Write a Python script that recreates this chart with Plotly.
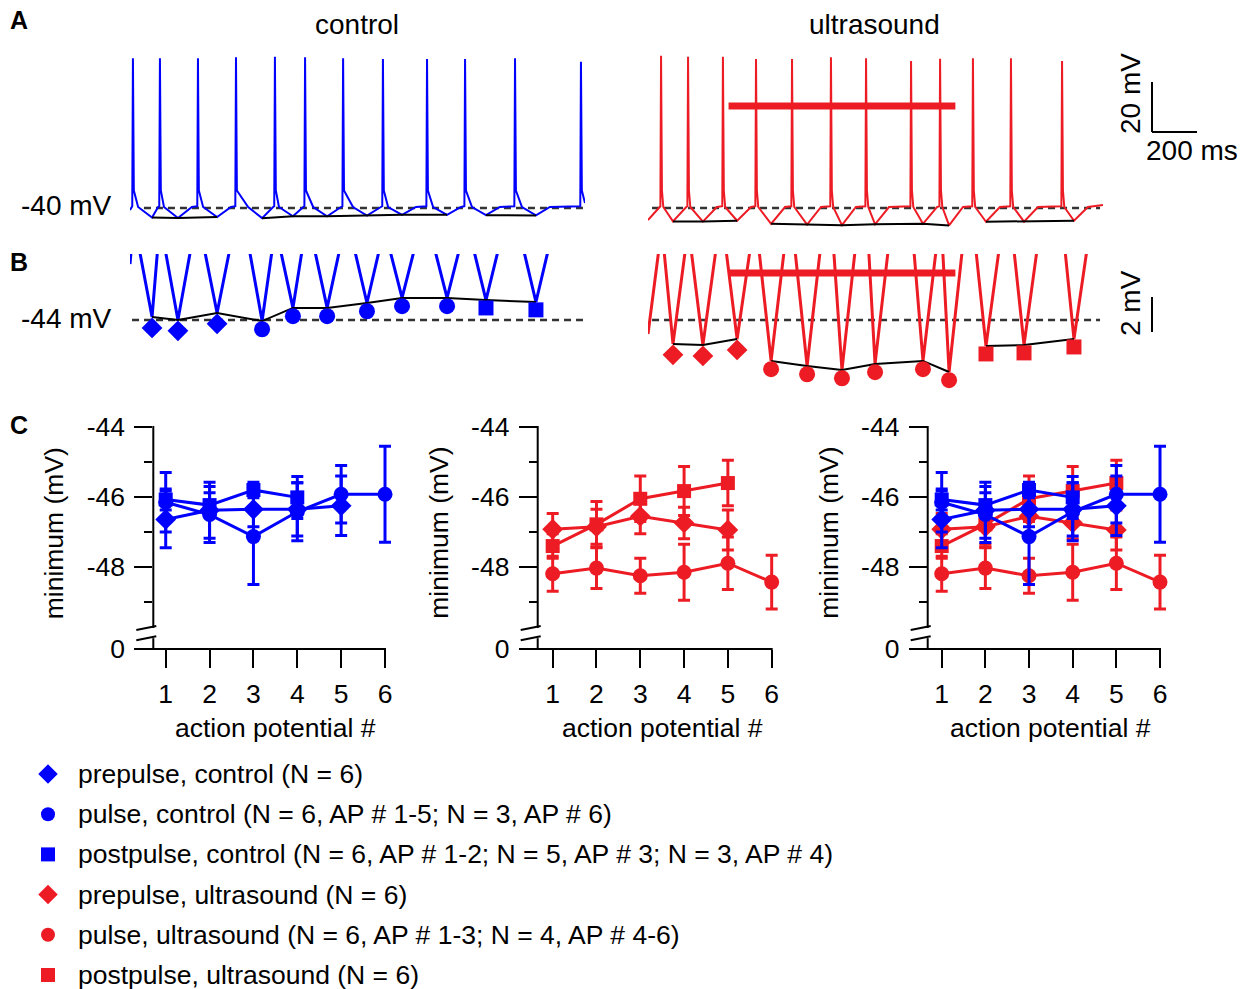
import plotly.graph_objects as go

W, H = 1248, 989
FONT = "Liberation Sans, Arial, Helvetica, sans-serif"
BLUE = "#0000ff"
RED = "#ed1c24"
DASH_COL = "#333333"

# ---------------- data: example traces (panels A and B) ----------------
# times in ms from the start of the sweep, voltages in mV
ctrl_spike_t = [13, 133, 302, 471, 644, 778, 947, 1124, 1320, 1489, 1711, 2004]
ctrl_spike_peak = [19.9, 19.9, 19.9, 20.3, 20.5, 20.3, 19.9, 19.6, 19.6, 19.6, 19.9, 18.5]
ctrl_trough_t = [98, 213, 387, 587, 724, 876, 1053, 1209, 1409, 1582, 1804]
ctrl_trough_v = [-43.83, -44.00, -43.60, -44.06, -43.31, -43.31, -43.03, -42.74, -42.74, -42.86, -42.97]
ctrl_trough_phase = ["pre"] * 3 + ["pulse"] * 6 + ["post"] * 2
ctrl_start = (0, -40.8)
ctrl_end = (2022, -38.0)

us_spike_t = [58, 178, 333, 480, 640, 813, 969, 1169, 1298, 1444, 1613, 1840]
us_spike_peak = [20.9, 20.5, 20.5, 19.6, 19.6, 20.3, 19.9, 18.8, 19.7, 19.9, 19.9, 18.8]
us_trough_t = [111, 244, 396, 547, 707, 862, 1009, 1222, 1338, 1502, 1671, 1893]
us_trough_v = [-45.37, -45.43, -45.09, -46.34, -46.63, -46.86, -46.51, -46.34, -46.97, -45.49, -45.43, -45.09]
us_trough_phase = ["pre"] * 3 + ["pulse"] * 6 + ["post"] * 3
us_start = (0, -44.8)
us_end = (2022, -38.8)
us_pulse_on_off = (358, 1366)  # ms

# ---------------- data: panel C (mean +/- error) ----------------
ap_num = [1, 2, 3, 4, 5, 6]
ctrl_pre_mean = [-46.64, -46.38, -46.35, -46.35, -46.25]
ctrl_pre_err = [0.81, 0.80, 0.50, 0.76, 0.85]
ctrl_pulse_mean = [-46.15, -46.50, -47.13, -46.42, -45.92, -45.92]
ctrl_pulse_err = [0.85, 0.80, 1.37, 0.83, 0.82, 1.37]
ctrl_post_mean = [-46.07, -46.23, -45.80, -46.01]
ctrl_post_err = [0.30, 0.35, 0.22, 0.60]
us_pre_mean = [-46.92, -46.85, -46.55, -46.74, -46.94]
us_pre_err = [0.45, 0.50, 0.50, 0.45, 0.57]
us_pulse_mean = [-48.19, -48.03, -48.25, -48.15, -47.89, -48.43]
us_pulse_err = [0.50, 0.58, 0.50, 0.80, 0.75, 0.77]
us_post_mean = [-47.40, -46.78, -46.05, -45.83, -45.60]
us_post_err = [0.35, 0.65, 0.65, 0.70, 0.65]

y_tick_vals = [-44, -46, -48]
y_tick_text = ["-44", "-46", "-48"]
y_minor_vals = [-45, -47, -49]
x_tick_text = ["1", "2", "3", "4", "5", "6"]

legend_labels = [
    "prepulse, control (N = 6)",
    "pulse, control (N = 6, AP # 1-5; N = 3, AP # 6)",
    "postpulse, control (N = 6, AP # 1-2; N = 5, AP # 3; N = 3, AP # 4)",
    "prepulse, ultrasound (N = 6)",
    "pulse, ultrasound (N = 6, AP # 1-3; N = 4, AP # 4-6)",
    "postpulse, ultrasound (N = 6)",
]

# ---------------- style / layout constants ----------------
SYMBOL = {"pre": "diamond", "pulse": "circle", "post": "square"}
B_MARK_SIZE = {"pre": 16, "pulse": 16, "post": 15}
B_MARK_OFFSET = {"pre": 0.62, "pulse": 0.47, "post": 0.45}  # mV below trough
PRE_DT, V_PRE = 3, -39.3          # spike onset
REP_DT, V_REP = 4, -33.0          # fast repolarisation
ARM_DT, V_ARM = 62, -39.6         # shape of the after-hyperpolarisation trough
ZERO_POS = -50.34  # position of the "0" label below the axis break
C_FONT = 26.5

A_MV_PX = 2.5          # px per mV in A
B_MV_PX = 17.5         # px per mV in B
MS_PX = 455 / 2022     # px per ms


def px2x(p):
    return p / W


def px2y(p):
    return 1 - p / H


def waveform(start, spike_t, spike_peak, trough_t, trough_v, end):
    pts = [start, end]
    for t, p in zip(spike_t, spike_peak):
        pts += [(t - PRE_DT, V_PRE), (t, p)]
        if t + REP_DT < end[0]:
            pts.append((t + REP_DT, V_REP))
    for t, v in zip(trough_t, trough_v):
        prev_s = max([s for s in spike_t if s < t], default=start[0])
        next_s = min([s for s in spike_t if s > t], default=end[0] + 8)
        left = max(t - ARM_DT, prev_s + 10)
        right = min(t + ARM_DT, next_s - 8)
        pts += [(left, V_ARM), (t, v), (right, V_ARM)]
    pts.sort()
    return [p[0] for p in pts], [p[1] for p in pts]


fig = go.Figure()
shapes = []
annotations = []

cells = [
    dict(col=BLUE, spike_t=ctrl_spike_t, peak=ctrl_spike_peak, tr_t=ctrl_trough_t, tr_v=ctrl_trough_v,
         phase=ctrl_trough_phase, start=ctrl_start, end=ctrl_end, xa="x", ya="y", xb="x3", yb="y3",
         dash=(62, 2013), dashB=(9, 2013), b_continuous=True),
    dict(col=RED, spike_t=us_spike_t, peak=us_spike_peak, tr_t=us_trough_t, tr_v=us_trough_v,
         phase=us_trough_phase, start=us_start, end=us_end, xa="x2", ya="y2", xb="x4", yb="y4",
         dash=(18, 2009), dashB=(18, 2009), b_continuous=False),
]

for c in cells:
    ts, vs = waveform(c["start"], c["spike_t"], c["peak"], c["tr_t"], c["tr_v"], c["end"])
    # panel A
    fig.add_trace(go.Scatter(x=list(c["dash"]), y=[-40, -40], mode="lines", xaxis=c["xa"], yaxis=c["ya"],
                             line=dict(color=DASH_COL, width=2.5, dash="7px,5px"), hoverinfo="skip"))
    fig.add_trace(go.Scatter(x=ts, y=vs, mode="lines", xaxis=c["xa"], yaxis=c["ya"],
                             line=dict(color=c["col"], width=2), hoverinfo="skip"))
    for ph in ["pre", "pulse", "post"]:
        idx = [i for i, p in enumerate(c["phase"]) if p == ph]
        fig.add_trace(go.Scatter(x=[c["tr_t"][i] for i in idx], y=[c["tr_v"][i] for i in idx], mode="lines",
                                 xaxis=c["xa"], yaxis=c["ya"], line=dict(color="black", width=2),
                                 hoverinfo="skip"))
    # panel B
    fig.add_trace(go.Scatter(x=list(c["dashB"]), y=[-44, -44], mode="lines", xaxis=c["xb"], yaxis=c["yb"],
                             line=dict(color=DASH_COL, width=2.5, dash="7px,5px"), hoverinfo="skip"))
    fig.add_trace(go.Scatter(x=ts, y=vs, mode="lines", xaxis=c["xb"], yaxis=c["yb"],
                             line=dict(color=c["col"], width=3), hoverinfo="skip"))
    if c["b_continuous"]:
        groups = [list(range(len(c["tr_t"])))]
    else:
        groups = [[i for i, p in enumerate(c["phase"]) if p == ph] for ph in ["pre", "pulse", "post"]]
    for idx in groups:
        fig.add_trace(go.Scatter(x=[c["tr_t"][i] for i in idx], y=[c["tr_v"][i] for i in idx], mode="lines",
                                 xaxis=c["xb"], yaxis=c["yb"], line=dict(color="black", width=2),
                                 hoverinfo="skip"))
    for ph in ["pre", "pulse", "post"]:
        idx = [i for i, p in enumerate(c["phase"]) if p == ph]
        fig.add_trace(go.Scatter(x=[c["tr_t"][i] for i in idx],
                                 y=[c["tr_v"][i] - B_MARK_OFFSET[ph] for i in idx], mode="markers",
                                 xaxis=c["xb"], yaxis=c["yb"], cliponaxis=False,
                                 marker=dict(symbol=SYMBOL[ph], size=B_MARK_SIZE[ph], color=c["col"]),
                                 hoverinfo="skip"))

# ultrasound pulse bars
shapes.append(dict(type="line", xref="x2", yref="y2", x0=us_pulse_on_off[0], x1=us_pulse_on_off[1],
                   y0=0.8, y1=0.8, line=dict(color=RED, width=7)))
shapes.append(dict(type="line", xref="x4", yref="y4", x0=us_pulse_on_off[0], x1=us_pulse_on_off[1],
                   y0=-41.31, y1=-41.31, line=dict(color=RED, width=7)))

# scale bars
sb_x, sb_y = 1152, 132
shapes.append(dict(type="line", xref="paper", yref="paper", x0=px2x(sb_x), x1=px2x(sb_x),
                   y0=px2y(sb_y), y1=px2y(sb_y - 20 * A_MV_PX), line=dict(color="black", width=2)))
shapes.append(dict(type="line", xref="paper", yref="paper", x0=px2x(sb_x), x1=px2x(sb_x + 200 * MS_PX),
                   y0=px2y(sb_y), y1=px2y(sb_y), line=dict(color="black", width=2)))
sb2_y = 332
shapes.append(dict(type="line", xref="paper", yref="paper", x0=px2x(sb_x), x1=px2x(sb_x),
                   y0=px2y(sb2_y), y1=px2y(sb2_y - 2 * B_MV_PX), line=dict(color="black", width=2)))

# ---------------- panel C ----------------
C_AXIS_PX = [153.3, 537.7, 927.7]
C_UNIT_PX = [43.86, 43.8, 43.66]
C_X0 = [0.717, 0.658, 0.679]
C_XMAX = 6.35
C_TOP, C_BOT = 427, 649
C_MV_PX = (C_BOT - C_TOP) / (-44 - ZERO_POS)

ctrl_series = [
    ("pre", BLUE, ctrl_pre_mean, ctrl_pre_err),
    ("pulse", BLUE, ctrl_pulse_mean, ctrl_pulse_err),
    ("post", BLUE, ctrl_post_mean, ctrl_post_err),
]
us_series = [
    ("pre", RED, us_pre_mean, us_pre_err),
    ("pulse", RED, us_pulse_mean, us_pulse_err),
    ("post", RED, us_post_mean, us_post_err),
]
panel_series = [ctrl_series, us_series, us_series + ctrl_series]
C_MARK_SIZE = {"pre": 16, "pulse": 15, "post": 14}

for k in range(3):
    n = 5 + k
    xa, ya = "x%d" % n, "y%d" % n
    for ph, col, mean, err in panel_series[k]:
        fig.add_trace(go.Scatter(x=ap_num[:len(mean)], y=mean, mode="lines+markers", xaxis=xa, yaxis=ya,
                                 cliponaxis=False, line=dict(color=col, width=3),
                                 marker=dict(symbol=SYMBOL[ph], size=C_MARK_SIZE[ph], color=col),
                                 error_y=dict(type="data", array=err, visible=True, thickness=3, width=6,
                                              color=col),
                                 hoverinfo="skip"))
    ax_px = C_AXIS_PX[k]
    unit = C_UNIT_PX[k]
    x0 = C_X0[k]
    right_px = ax_px + (C_XMAX - x0) * unit
    fig.update_layout(**{
        "xaxis%d" % n: dict(domain=[px2x(ax_px), px2x(right_px)], range=[x0, C_XMAX], anchor=ya,
                            tickvals=ap_num, ticktext=x_tick_text, ticks="outside", ticklen=18, tickwidth=2,
                            tickcolor="black", showline=False, showgrid=False, zeroline=False,
                            tickfont=dict(size=C_FONT, color="black", family=FONT), ticklabelstandoff=3,
                            fixedrange=True, automargin=False),
        "yaxis%d" % n: dict(domain=[px2y(C_BOT), px2y(C_TOP)], range=[ZERO_POS - 0.001, -44 + 0.001],
                            anchor=xa, tickvals=y_tick_vals + [ZERO_POS], ticktext=y_tick_text + ["0"],
                            ticks="outside", ticklen=18, tickwidth=2, tickcolor="black",
                            minor=dict(tickvals=y_minor_vals, ticks="outside", ticklen=8, tickwidth=2,
                                       tickcolor="black", showgrid=False),
                            showline=False, showgrid=False, zeroline=False,
                            tickfont=dict(size=C_FONT, color="black", family=FONT), ticklabelstandoff=4,
                            fixedrange=True, automargin=False),
    })
    x6_px = ax_px + (6 - x0) * unit
    brk_top = C_TOP + (-44 - (-49.74)) * C_MV_PX
    brk_bot = C_TOP + (-44 - (-50.03)) * C_MV_PX
    line = dict(color="black", width=2)
    shapes += [
        dict(type="line", xref="paper", yref="paper", x0=px2x(ax_px), x1=px2x(ax_px),
             y0=px2y(C_TOP - 1), y1=px2y(brk_top), line=line),
        dict(type="line", xref="paper", yref="paper", x0=px2x(ax_px), x1=px2x(ax_px),
             y0=px2y(brk_bot), y1=px2y(C_BOT + 1), line=line),
        dict(type="line", xref="paper", yref="paper", x0=px2x(ax_px - 18), x1=px2x(x6_px + 1),
             y0=px2y(C_BOT), y1=px2y(C_BOT), line=line),
        dict(type="line", xref="paper", yref="paper", x0=px2x(ax_px - 17), x1=px2x(ax_px + 3),
             y0=px2y(brk_top + 2), y1=px2y(brk_top - 2), line=line),
        dict(type="line", xref="paper", yref="paper", x0=px2x(ax_px - 17), x1=px2x(ax_px + 3),
             y0=px2y(brk_bot + 2), y1=px2y(brk_bot - 2), line=line),
    ]
    annotations.append(dict(text="minimum (mV)", x=px2x(ax_px - 99), y=px2y(533), textangle=-90,
                            font=dict(size=C_FONT)))
    annotations.append(dict(text="action potential #", x=px2x(ax_px + (3.5 - x0) * unit), y=px2y(728),
                            font=dict(size=C_FONT)))

# ---------------- legend ----------------
leg_colors = [BLUE] * 3 + [RED] * 3
leg_phase = ["pre", "pulse", "post"] * 2
leg_size = {"pre": 15, "pulse": 14, "post": 14}
for i, lab in enumerate(legend_labels):
    yy = 774 + 40.2 * i
    fig.add_trace(go.Scatter(x=[48], y=[yy], mode="markers", xaxis="x8", yaxis="y8", cliponaxis=False,
                             marker=dict(symbol=SYMBOL[leg_phase[i]], size=leg_size[leg_phase[i]],
                                         color=leg_colors[i]), hoverinfo="skip"))
    annotations.append(dict(text=lab, x=px2x(76), y=px2y(yy), xanchor="left", font=dict(size=26.5)))

# ---------------- text labels ----------------
annotations += [
    dict(text="<b>A</b>", x=px2x(19), y=px2y(20), font=dict(size=25)),
    dict(text="<b>B</b>", x=px2x(19), y=px2y(262), font=dict(size=25)),
    dict(text="<b>C</b>", x=px2x(19), y=px2y(425), font=dict(size=25)),
    dict(text="control", x=px2x(357), y=px2y(24), font=dict(size=28)),
    dict(text="ultrasound", x=px2x(875), y=px2y(24), font=dict(size=28)),
    dict(text="-40 mV", x=px2x(114), y=px2y(206), xanchor="right", font=dict(size=28)),
    dict(text="-44 mV", x=px2x(114), y=px2y(318), xanchor="right", font=dict(size=28)),
    dict(text="20 mV", x=px2x(1131), y=px2y(94), textangle=-90, font=dict(size=28)),
    dict(text="200 ms", x=px2x(1192), y=px2y(150), font=dict(size=28)),
    dict(text="2 mV", x=px2x(1131), y=px2y(303), textangle=-90, font=dict(size=28)),
]
for a in annotations:
    a["xref"] = "paper"
    a["yref"] = "paper"
    a["showarrow"] = False
    a.setdefault("xanchor", "center")
    a["yanchor"] = "middle"
    a["font"] = dict(family=FONT, color="black", size=a["font"]["size"])

hidden = dict(visible=False, fixedrange=True, automargin=False)
A_TOP, A_BOT = 45, 240
B_TOP, B_BOT = 254, 392
fig.update_layout(
    width=W, height=H, autosize=False,
    margin=dict(l=0, r=0, t=0, b=0, pad=0, autoexpand=False),
    paper_bgcolor="white", plot_bgcolor="rgba(0,0,0,0)", showlegend=False,
    font=dict(family=FONT, color="black"),
    xaxis=dict(domain=[px2x(130), px2x(585)], range=[0, 2022], anchor="y", **hidden),
    yaxis=dict(domain=[px2y(A_BOT), px2y(A_TOP)],
               range=[-40 - (A_BOT - 208) / A_MV_PX, -40 + (208 - A_TOP) / A_MV_PX], anchor="x", **hidden),
    xaxis2=dict(domain=[px2x(648), px2x(1103)], range=[0, 2022], anchor="y2", **hidden),
    yaxis2=dict(domain=[px2y(A_BOT), px2y(A_TOP)],
                range=[-40 - (A_BOT - 208) / A_MV_PX, -40 + (208 - A_TOP) / A_MV_PX], anchor="x2", **hidden),
    xaxis3=dict(domain=[px2x(130), px2x(585)], range=[0, 2022], anchor="y3", **hidden),
    yaxis3=dict(domain=[px2y(B_BOT), px2y(B_TOP)],
                range=[-44 - (B_BOT - 320) / B_MV_PX, -44 + (320 - B_TOP) / B_MV_PX], anchor="x3", **hidden),
    xaxis4=dict(domain=[px2x(648), px2x(1103)], range=[0, 2022], anchor="y4", **hidden),
    yaxis4=dict(domain=[px2y(B_BOT), px2y(B_TOP)],
                range=[-44 - (B_BOT - 320) / B_MV_PX, -44 + (320 - B_TOP) / B_MV_PX], anchor="x4", **hidden),
    xaxis8=dict(domain=[0, 1], range=[0, W], anchor="y8", **hidden),
    yaxis8=dict(domain=[0, 1], range=[H, 0], anchor="x8", **hidden),
    shapes=shapes,
    annotations=annotations,
)

fig.write_html("out.html")
